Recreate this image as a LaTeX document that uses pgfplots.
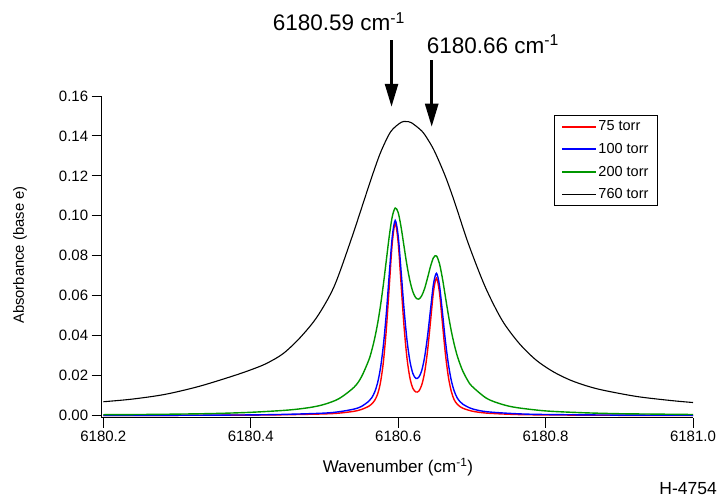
\documentclass[border=0pt]{standalone}
\usepackage{fontspec}
\setmainfont{Liberation Sans}
\usepackage{pgfplots}
\pgfplotsset{compat=1.18}
\usetikzlibrary{arrows.meta}
\definecolor{igred}{RGB}{255,0,0}
\definecolor{igblue}{RGB}{0,0,255}
\definecolor{iggreen}{RGB}{0,150,0}
\begin{document}
\begin{tikzpicture}[x=1pt,y=1pt]
\path[use as bounding box] (0,0) rectangle (720,498);
\begin{axis}[
  at={(101.7pt,80.5pt)}, anchor=south west,
  scale only axis, width=591.3pt, height=321.5pt,
  xmin=0.1978, xmax=1.0, ymin=-0.001, ymax=0.16,
  axis x line*=bottom, axis y line*=left,
  axis line style={-, line width=0.9pt},
  tick align=outside, major tick length=10pt,
  tick style={line width=0.9pt, black},
  xtick={0.2,0.4,0.6,0.8,1.0},
  xticklabels={6180.2,6180.4,6180.6,6180.8,6181.0},
  ytick={0,0.02,0.04,0.06,0.08,0.10,0.12,0.14,0.16},
  scaled y ticks=false, scaled x ticks=false,
  /pgf/number format/assume math mode=true,
  yticklabel style={/pgf/number format/.cd, fixed, fixed zerofill, precision=2},
  ticklabel style={font=\fontsize{15}{18}\selectfont},
  xlabel={Wavenumber (cm\textsuperscript{-1})},
  ylabel={Absorbance (base e)},
  every axis x label/.style={at={(axis description cs:0.501,-0.154)}, anchor=center, font=\fontsize{17}{20}\selectfont},
  every axis y label/.style={at={(axis description cs:-0.1382,0.505)}, rotate=90, anchor=center, font=\fontsize{14.8}{18}\selectfont},
  clip=false,
  legend style={at={(0.765,0.941)}, anchor=north west,
    font=\fontsize{14.5}{17}\selectfont, inner xsep=7pt, inner ysep=3.5pt, row sep=7pt, fill=white},
  every axis legend/.append style={line width=1pt},
  legend cell align=left,
  legend image post style={xscale=1.94},
]
\addplot[igred, line width=1.4pt, smooth, forget plot] coordinates {
(0.20,0.0000) (0.30,0.0001) (0.40,0.0002) (0.45,0.0004) (0.50,0.0008) (0.52,0.0012) (0.54,0.0021) (0.55,0.0030)
(0.560,0.0046) (0.564,0.0057) (0.568,0.0075) (0.572,0.0106) (0.576,0.0165) (0.580,0.0270) (0.584,0.0434) (0.588,0.0650)
(0.592,0.0864) (0.596,0.0962) (0.600,0.0867) (0.604,0.0657) (0.608,0.0445) (0.612,0.0286) (0.616,0.0187) (0.620,0.0136)
(0.624,0.0118) (0.628,0.0122) (0.632,0.0153) (0.636,0.0218) (0.640,0.0328) (0.644,0.0475) (0.648,0.0622) (0.652,0.0688)
(0.656,0.0617) (0.660,0.0465) (0.664,0.0312) (0.668,0.0196) (0.672,0.0122) (0.676,0.0079) (0.680,0.0057) (0.684,0.0044)
(0.688,0.0036) (0.70,0.0022) (0.72,0.0012) (0.76,0.0005) (0.80,0.0003) (0.90,0.0001) (1.00,0.0001)
};
\addplot[igblue, line width=1.4pt, smooth, forget plot] coordinates {
(0.20,0.0001) (0.30,0.0001) (0.40,0.0003) (0.45,0.0006) (0.50,0.0012) (0.52,0.0019) (0.54,0.0032) (0.55,0.0045)
(0.560,0.0071) (0.564,0.0088) (0.568,0.0116) (0.572,0.0162) (0.576,0.0237) (0.580,0.0353) (0.584,0.0514) (0.588,0.0711)
(0.592,0.0895) (0.596,0.0977) (0.600,0.0900) (0.604,0.0722) (0.608,0.0532) (0.612,0.0377) (0.616,0.0271) (0.620,0.0210)
(0.624,0.0186) (0.628,0.0192) (0.632,0.0225) (0.636,0.0295) (0.640,0.0401) (0.644,0.0534) (0.648,0.0660) (0.652,0.0712)
(0.656,0.0652) (0.660,0.0519) (0.664,0.0377) (0.668,0.0261) (0.672,0.0177) (0.676,0.0123) (0.680,0.0089) (0.684,0.0069)
(0.688,0.0056) (0.70,0.0034) (0.72,0.0019) (0.76,0.0009) (0.80,0.0005) (0.90,0.0002) (1.00,0.0001)
};
\addplot[iggreen, line width=1.4pt, smooth, forget plot] coordinates {
(0.20,0.0004) (0.25,0.0005) (0.30,0.0007) (0.35,0.0010) (0.40,0.0016) (0.45,0.0027) (0.48,0.0040) (0.50,0.0056)
(0.52,0.0085) (0.54,0.0141) (0.55,0.0192)
(0.560,0.0276) (0.564,0.0324) (0.568,0.0384) (0.572,0.0458) (0.576,0.0549) (0.580,0.0658) (0.584,0.0779) (0.588,0.0900)
(0.592,0.0996) (0.596,0.1039) (0.600,0.1017) (0.604,0.0943) (0.608,0.0846) (0.612,0.0751) (0.616,0.0674) (0.620,0.0619)
(0.624,0.0589) (0.628,0.0583) (0.632,0.0600) (0.636,0.0637) (0.640,0.0691) (0.644,0.0748) (0.648,0.0791) (0.652,0.0799)
(0.656,0.0761) (0.660,0.0688) (0.664,0.0597) (0.668,0.0506) (0.672,0.0425) (0.676,0.0357) (0.680,0.0301) (0.684,0.0257)
(0.688,0.0220) (0.694,0.0178) (0.70,0.0147) (0.72,0.0086) (0.74,0.0057) (0.76,0.0040) (0.80,0.0023) (0.85,0.0014)
(0.90,0.0009) (0.95,0.0007) (1.00,0.0005)
};
\addplot[black, line width=1.1pt, smooth, forget plot] coordinates {
(0.200,0.0069) (0.239,0.0082) (0.284,0.0106) (0.330,0.0146) (0.376,0.0198) (0.401,0.0230) (0.421,0.0260) (0.444,0.0310)
(0.467,0.0390) (0.490,0.0494) (0.513,0.0645) (0.536,0.0879) (0.558,0.1125) (0.568,0.1235) (0.577,0.1325) (0.590,0.1422)
(0.604,0.1468) (0.611,0.1472) (0.618,0.1466) (0.632,0.1425) (0.641,0.1378) (0.650,0.1318) (0.664,0.1198) (0.677,0.1064)
(0.695,0.0863) (0.718,0.0645) (0.741,0.0477) (0.764,0.0362) (0.787,0.0278) (0.810,0.0220) (0.833,0.0178) (0.856,0.0148)
(0.879,0.0126) (0.924,0.0095) (0.970,0.0075) (1.000,0.0065)
};
\addlegendimage{igred, line width=1.8pt}
\addlegendentry{75 torr}
\addlegendimage{igblue, line width=1.8pt}
\addlegendentry{100 torr}
\addlegendimage{iggreen, line width=1.8pt}
\addlegendentry{200 torr}
\addlegendimage{black, line width=0.9pt}
\addlegendentry{760 torr}
\draw[-{Triangle[length=23pt,width=13pt]}, line width=2.6pt] (axis cs:0.591,0.188) -- (axis cs:0.591,0.1546);
\draw[-{Triangle[length=23pt,width=13pt]}, line width=2.6pt] (axis cs:0.6455,0.178) -- (axis cs:0.6455,0.1446);
\end{axis}
\node[anchor=base west, inner sep=0pt, font=\fontsize{22.5}{26}\selectfont] at (272.7,467.3) {6180.59 cm\textsuperscript{-1}};
\node[anchor=base west, inner sep=0pt, font=\fontsize{22.5}{26}\selectfont] at (426.7,444.7) {6180.66 cm\textsuperscript{-1}};
\node[anchor=base east, inner sep=0pt, font=\fontsize{17.5}{20}\selectfont] at (717,4) {H-4754};
\end{tikzpicture}
\end{document}
